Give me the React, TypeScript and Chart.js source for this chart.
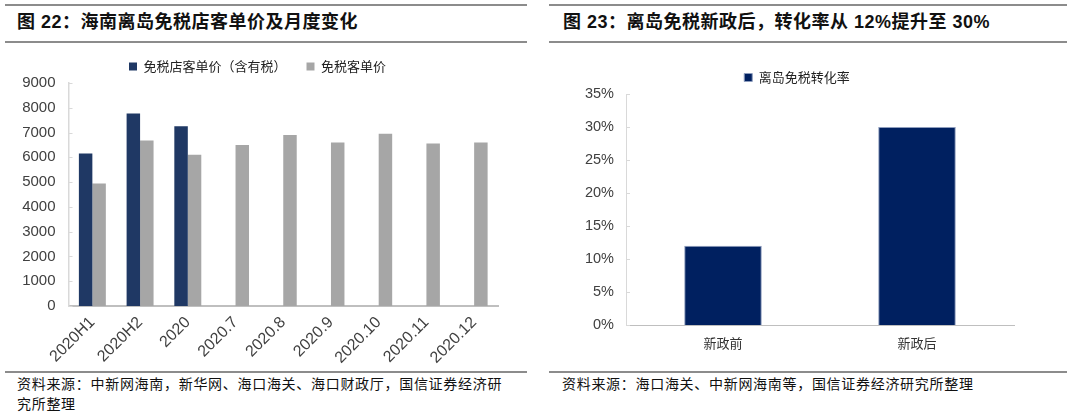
import React, { useEffect, useRef } from "react";
import { Chart, registerables } from "chart.js";

Chart.register(...registerables);

// ---- Data: figure 22 ----
const leftCategories = ["2020H1", "2020H2", "2020", "2020.7", "2020.8", "2020.9", "2020.10", "2020.11", "2020.12"];
const storePriceLabel = "免税店客单价（含有税）";
const storePrice: (number | null)[] = [6150, 7770, 7250, null, null, null, null, null, null];
const dutyFreePriceLabel = "免税客单价";
const dutyFreePrice = [4940, 6680, 6100, 6500, 6900, 6600, 6950, 6560, 6600];
const leftYMin = 0;
const leftYMax = 9000;
const leftYStep = 1000;

// ---- Data: figure 23 ----
const rightCategories = ["新政前", "新政后"];
const conversionLabel = "离岛免税转化率";
const conversionRate = [12, 30];
const rightYMin = 0;
const rightYMax = 35;
const rightYStep = 5;

const leftTitle = "图 22：海南离岛免税店客单价及月度变化";
const rightTitle = "图 23：离岛免税新政后，转化率从 12%提升至 30%";
const leftSource1 = "资料来源：中新网海南，新华网、海口海关、海口财政厅，国信证券经济研";
const leftSource2 = "究所整理";
const rightSource = "资料来源：海口海关、中新网海南等，国信证券经济研究所整理";

const CJK = '"Noto Sans CJK SC", sans-serif';
const LAT = '"Liberation Sans", Arial, sans-serif';

const innerTicks = {
  id: "innerTicks",
  afterDatasetsDraw(chart: any, _args: any, opts: any) {
    const y = chart.scales.y;
    const ctx = chart.ctx;
    ctx.save();
    ctx.strokeStyle = opts.color || "#D9D9D9";
    ctx.lineWidth = 1;
    y.ticks.forEach((_t: any, i: number) => {
      const py = Math.round(y.getPixelForTick(i)) + 0.5;
      ctx.beginPath();
      ctx.moveTo(chart.chartArea.left, py);
      ctx.lineTo(chart.chartArea.left + 4, py);
      ctx.stroke();
    });
    ctx.restore();
  },
};

function LeftChart() {
  const ref = useRef<HTMLCanvasElement>(null);
  useEffect(() => {
    const chart = new Chart(ref.current as HTMLCanvasElement, {
      type: "bar",
      data: {
        labels: leftCategories,
        datasets: [
          { label: storePriceLabel, data: storePrice as any, backgroundColor: "#1F3864", barPercentage: 1, categoryPercentage: 0.565 },
          { label: dutyFreePriceLabel, data: dutyFreePrice, backgroundColor: "#A6A6A6", barPercentage: 1, categoryPercentage: 0.565 },
        ],
      },
      plugins: [innerTicks],
      options: {
        responsive: false,
        animation: false,
        devicePixelRatio: 1,
        layout: { padding: { left: 17, right: 42, top: 0, bottom: 0 } },
        plugins: {
          legend: {
            display: true,
            position: "top",
            labels: { font: { family: CJK, size: 13 }, color: "#222", boxWidth: 8, boxHeight: 8, padding: 20 },
          },
          tooltip: { enabled: false },
          innerTicks: { color: "#D9D9D9" },
        } as any,
        scales: {
          x: {
            grid: { display: false, drawTicks: false },
            border: { display: true, color: "#BFBFBF", width: 2 },
            ticks: { font: { family: LAT, size: 16 }, color: "#404040", minRotation: 45, maxRotation: 45, autoSkip: false, padding: 7 },
            afterFit: (s: any) => { s.height = 64; },
          },
          y: {
            min: leftYMin,
            max: leftYMax,
            grid: { display: false, drawTicks: false },
            border: { display: true, color: "#D9D9D9", width: 1.5 },
            ticks: { stepSize: leftYStep, font: { family: LAT, size: 15 }, color: "#404040", padding: 13, callback: (v: any) => String(v) },
            afterFit: (s: any) => { s.width = 51.5; },
          },
        },
      },
    });
    return () => chart.destroy();
  }, []);
  return <canvas ref={ref} width={540} height={330} style={{ position: "absolute", left: 0, top: 40, width: 540, height: 330 }} />;
}

function RightChart() {
  const ref = useRef<HTMLCanvasElement>(null);
  useEffect(() => {
    const chart = new Chart(ref.current as HTMLCanvasElement, {
      type: "bar",
      data: {
        labels: rightCategories,
        datasets: [
          { label: conversionLabel, data: conversionRate, backgroundColor: "#002060", borderColor: "#8E9DBD", borderWidth: 1, barPercentage: 1, categoryPercentage: 0.4 },
        ],
      },
      plugins: [innerTicks],
      options: {
        responsive: false,
        animation: false,
        devicePixelRatio: 1,
        layout: { padding: { left: 40, right: 66, top: 0, bottom: 0 } },
        plugins: {
          legend: {
            display: true,
            position: "top",
            labels: { font: { family: CJK, size: 13 }, color: "#222", boxWidth: 8, boxHeight: 8, padding: 20 },
          },
          tooltip: { enabled: false },
          innerTicks: { color: "#D9D9D9" },
        } as any,
        scales: {
          x: {
            grid: { display: false, drawTicks: false },
            border: { display: true, color: "#BFBFBF", width: 1 },
            ticks: { font: { family: CJK, size: 13 }, color: "#333", padding: 10 },
            afterFit: (s: any) => { s.height = 45; },
          },
          y: {
            min: rightYMin,
            max: rightYMax,
            grid: { display: false, drawTicks: false },
            border: { display: true, color: "#D9D9D9", width: 1 },
            ticks: { stepSize: rightYStep, font: { family: LAT, size: 14.5 }, color: "#404040", padding: 12, callback: (v: any) => v + "%" },
            afterFit: (s: any) => { s.width = 46; },
          },
        },
      },
    });
    return () => chart.destroy();
  }, []);
  return <canvas ref={ref} width={540} height={319} style={{ position: "absolute", left: 540, top: 51, width: 540, height: 319 }} />;
}

const line = (left: number, top: number, width: number) => (
  <div style={{ position: "absolute", left, top, width, height: 2, background: "#8C8C8C" }} />
);

const titleStyle: React.CSSProperties = {
  position: "absolute",
  top: 10,
  fontFamily: `${LAT.split(",")[0]}, ${CJK}`,
  fontWeight: "bold",
  fontSize: 18,
  letterSpacing: 0.5,
  color: "#111",
  whiteSpace: "nowrap",
  lineHeight: "24px",
};

const srcStyle: React.CSSProperties = {
  position: "absolute",
  fontFamily: CJK,
  fontSize: 14,
  letterSpacing: 0.7,
  color: "#111",
  whiteSpace: "nowrap",
  lineHeight: "20px",
};

export default function App() {
  return (
    <div style={{ position: "absolute", left: 0, top: 0, width: 1080, height: 414, background: "#fff", overflow: "hidden" }}>
      {line(5, 4, 522)}
      {line(5, 41, 522)}
      {line(549, 4, 518)}
      {line(549, 41, 518)}
      <div style={{ ...titleStyle, left: 17 }}>{leftTitle}</div>
      <div style={{ ...titleStyle, left: 563 }}>{rightTitle}</div>
      <LeftChart />
      <RightChart />
      {line(5, 371, 522)}
      {line(549, 371, 518)}
      <div style={{ ...srcStyle, left: 17, top: 373 }}>{leftSource1}<br />{leftSource2}</div>
      <div style={{ ...srcStyle, left: 562, top: 373 }}>{rightSource}</div>
    </div>
  );
}
